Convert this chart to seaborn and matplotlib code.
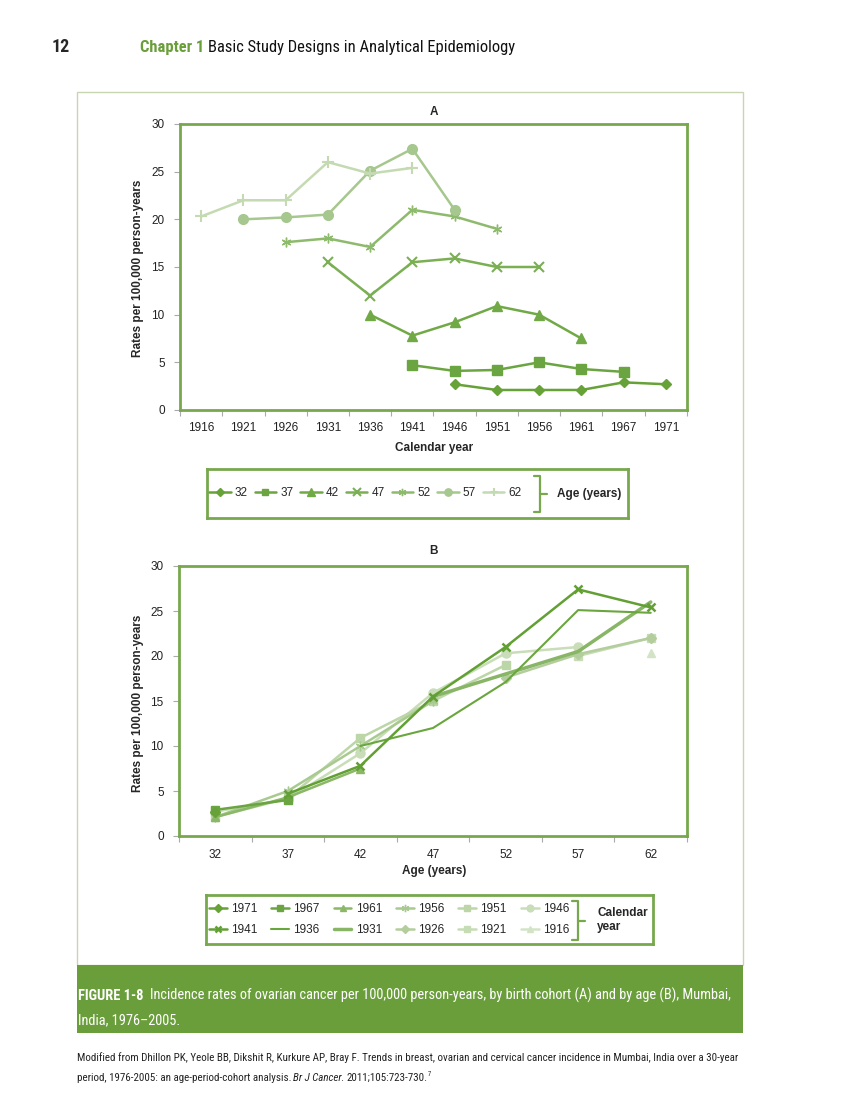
import numpy as np
import pandas as pd
import matplotlib
matplotlib.use("Agg")
import matplotlib.pyplot as plt
import seaborn as sns
from matplotlib.lines import Line2D
from matplotlib.patches import Rectangle
from matplotlib import font_manager

# birth cohorts (x of panel A, series of panel B) and ages (series of A, x of B)
cohorts = ["1916", "1921", "1926", "1931", "1936", "1941",
           "1946", "1951", "1956", "1961", "1967", "1971"]
ages = ["32", "37", "42", "47", "52", "57", "62"]

# rates per 100,000 person-years, one list per age, aligned with cohorts
rate_32 = [None, None, None, None, None, None, 2.7, 2.1, 2.1, 2.1, 2.9, 2.7]
rate_37 = [None, None, None, None, None, 4.7, 4.1, 4.2, 5.0, 4.3, 4.0, None]
rate_42 = [None, None, None, None, 10.0, 7.8, 9.2, 10.9, 10.0, 7.5, None, None]
rate_47 = [None, None, None, 15.5, 12.0, 15.5, 15.9, 15.0, 15.0, None, None, None]
rate_52 = [None, None, 17.6, 18.0, 17.1, 21.0, 20.3, 19.0, None, None, None, None]
rate_57 = [None, 20.0, 20.2, 20.5, 25.1, 27.4, 21.0, None, None, None, None, None]
rate_62 = [20.3, 22.0, 22.0, 26.0, 24.8, 25.4, None, None, None, None, None, None]
rates = [rate_32, rate_37, rate_42, rate_47, rate_52, rate_57, rate_62]

rows = []
for ai, (age, vals) in enumerate(zip(ages, rates)):
    for ci, (c, v) in enumerate(zip(cohorts, vals)):
        if v is not None:
            rows.append({"age": age, "cohort": c, "rate": v, "cx": ci, "ax": ai})
df = pd.DataFrame(rows)

GREEN = "#77a84d"
BAND = "#6a9e3b"
AST = (6, 2, 0)

age_style = {
    "32": dict(c="#66a238", m="D", ms=5, mew=1, lw=1.8),
    "37": dict(c="#6ba541", m="s", ms=6.5, mew=1, lw=1.8),
    "42": dict(c="#71a947", m="^", ms=7, mew=1, lw=1.8),
    "47": dict(c="#7baf54", m="x", ms=7, mew=1.5, lw=1.8),
    "52": dict(c="#8eba6d", m=AST, ms=7, mew=1, lw=1.8),
    "57": dict(c="#a6c78e", m="o", ms=7, mew=1, lw=1.8),
    "62": dict(c="#c4dab2", m="+", ms=8, mew=1.5, lw=1.8),
}
cohort_style = {
    "1971": dict(c="#66a238", m="D", ms=5, mew=1, lw=1.8, z=9),
    "1967": dict(c="#6ba541", m="s", ms=5.5, mew=1, lw=1.8, z=8),
    "1961": dict(c="#8ab866", m="^", ms=6, mew=1, lw=1.8, z=6),
    "1956": dict(c="#a8ca90", m=AST, ms=7, mew=1, lw=1.8, z=5),
    "1951": dict(c="#bcd6a8", m="s", ms=6, mew=1, lw=1.8, z=4),
    "1946": dict(c="#c8ddb8", m="o", ms=6.5, mew=1, lw=1.8, z=3),
    "1941": dict(c="#62a034", m="x", ms=6, mew=1.8, lw=1.8, z=10),
    "1936": dict(c="#6aa63e", m=None, ms=0, mew=0, lw=1.5, z=9),
    "1931": dict(c="#88b566", m=None, ms=0, mew=0, lw=2.5, z=7),
    "1926": dict(c="#b3ce9c", m="D", ms=5, mew=1, lw=1.8, z=3),
    "1921": dict(c="#c6dcb5", m="s", ms=6, mew=1, lw=1.8, z=2),
    "1916": dict(c="#d3e4c6", m="^", ms=6, mew=1, lw=1.8, z=2),
}
legend_b_rows = [["1971", "1967", "1961", "1956", "1951", "1946"],
                 ["1941", "1936", "1931", "1926", "1921", "1916"]]

sns.set_style("white")
plt.rcParams["font.family"] = ["Liberation Sans", "DejaVu Sans"]

# a narrow face for the book page text if one is installed
names = {f.name for f in font_manager.fontManager.ttflist}
PAGE_FONT = ["Liberation Sans"]
for cand in ["Liberation Sans Narrow", "Roboto Condensed", "Open Sans Condensed",
             "Noto Sans Condensed", "DejaVu Sans Condensed"]:
    if cand in names:
        PAGE_FONT = [cand]
        break

W, H = 867, 1114
fig = plt.figure(figsize=(W / 100, H / 100), dpi=100)
renderer = fig.canvas.get_renderer()


def fx(x):
    return x / W


def fy(y):
    return 1 - y / H


def axes_px(l, t, r, b):
    return fig.add_axes([fx(l), fy(b), (r - l) / W, (b - t) / H])


def text_run(x, y, parts, size, target=None, gap=0.0):
    # lay out pieces of differently styled text one after another on a line
    def draw(sz):
        arts, cx = [], x
        for i, (s, props) in enumerate(parts):
            t = fig.text(fx(cx), fy(y), s, fontsize=sz, ha="left", va="baseline",
                         family=PAGE_FONT, **props)
            cx += t.get_window_extent(renderer).width
            if i < len(parts) - 1:
                cx += gap * sz
            arts.append(t)
        return arts, cx
    arts, end = draw(size)
    if target:
        for t in arts:
            t.remove()
        size = size * target / (end - x)
        arts, end = draw(size)
    return size, end


def style_axes(ax, labels, xlabel, title, title_y, xlabel_y, center_y):
    ax.set_xlim(-0.5, len(labels) - 0.5)
    ax.set_ylim(0, 30)
    ax.set_yticks(range(0, 31, 5))
    ax.set_xticks(range(len(labels)))
    ax.set_xticklabels(labels)
    ax.set_xticks(np.arange(len(labels) + 1) - 0.5, minor=True)
    ax.tick_params(axis="x", which="major", length=0, pad=9, labelsize=8.5, labelcolor="#222222")
    ax.tick_params(axis="x", which="minor", length=4, width=0.8, color="#aaaaaa", bottom=True)
    ax.tick_params(axis="y", length=4, width=0.8, color="#aaaaaa", left=True, pad=7,
                   labelsize=8.5, labelcolor="#222222")
    ax.set_xlabel("")
    ax.set_ylabel("")
    for s in ax.spines.values():
        s.set_color(GREEN)
        s.set_linewidth(2)
    fig.text(fx(434), fy(title_y), title, ha="center", va="center", fontsize=8.5, weight="bold")
    fig.text(fx(434), fy(xlabel_y), xlabel, ha="center", va="center", fontsize=8.5, weight="bold")
    fig.text(fx(138), fy(center_y), "Rates per 100,000 person-years", rotation=90,
             ha="center", va="center", fontsize=8.5, weight="bold")


def handle(st):
    return Line2D([], [], color=st["c"], marker=st["m"], markersize=st["ms"],
                  markeredgecolor=st["c"], markeredgewidth=st["mew"], linewidth=st["lw"])


def bracket(x, top, bottom):
    mid = (top + bottom) / 2
    for xs, ys in [([x - 6, x, x, x - 6], [top, top, bottom, bottom]), ([x, x + 7], [mid, mid])]:
        fig.add_artist(Line2D([fx(v) for v in xs], [fy(v) for v in ys], color=GREEN,
                              lw=1.6, transform=fig.transFigure))


def legend_box(ax):
    ax.set_xticks([])
    ax.set_yticks([])
    for s in ax.spines.values():
        s.set_color(GREEN)
        s.set_linewidth(2)


# page frame and caption band
fig.add_artist(Rectangle((fx(77), fy(965)), (743 - 77) / W, (965 - 92) / H, fill=False,
                         edgecolor="#c8d5b2", lw=1, transform=fig.transFigure, zorder=0))
fig.add_artist(Rectangle((fx(77), fy(1033)), (743 - 77) / W, (1033 - 965) / H,
                         facecolor=BAND, edgecolor="none", transform=fig.transFigure, zorder=0))

# panel A: by birth cohort
axA = axes_px(180, 124, 687, 410)
for age in ages:
    st = age_style[age]
    sns.lineplot(data=df[df["age"] == age], x="cx", y="rate", ax=axA, color=st["c"],
                 marker=st["m"], markersize=st["ms"], markeredgecolor=st["c"],
                 markeredgewidth=st["mew"], linewidth=st["lw"], errorbar=None, legend=False)
style_axes(axA, cohorts, "Calendar year", "A", 112, 448, 268)

legA = axes_px(207, 469, 628, 518)
legend_box(legA)
legA.legend([handle(age_style[a]) for a in ages], ages, ncol=7, loc="center left",
            bbox_to_anchor=(0.0, 0.5), frameon=False, fontsize=8.5, handlelength=1.8,
            handletextpad=0.35, columnspacing=0.6, borderaxespad=0, borderpad=0.2,
            markerscale=0.75)
bracket(540, 476, 512)
fig.text(fx(557), fy(494), "Age (years)", ha="left", va="center", fontsize=8.5, weight="bold")

# panel B: by age
axB = axes_px(179, 566, 687, 836)
for c in sum(legend_b_rows, []):
    st = cohort_style[c]
    d = df[df["cohort"] == c]
    sns.lineplot(data=d, x="ax", y="rate", ax=axB, color=st["c"], marker=st["m"],
                 markersize=st["ms"], markeredgecolor=st["c"], markeredgewidth=st["mew"],
                 linewidth=st["lw"], errorbar=None, legend=False, zorder=st["z"])
style_axes(axB, ages, "Age (years)", "B", 551, 871, 703)

legB = axes_px(206, 895, 653, 944)
legend_box(legB)
order = [c for pair in zip(*legend_b_rows) for c in pair]
legB.legend([handle(cohort_style[c]) for c in order], order, ncol=6, loc="center left",
            bbox_to_anchor=(0.0, 0.5), frameon=False, fontsize=8.5, handlelength=1.5,
            handletextpad=0.35, columnspacing=1.2, labelspacing=0.75, borderaxespad=0,
            borderpad=0.25, markerscale=0.75)
bracket(578, 901, 940)
fig.text(fx(597), fy(920), "Calendar\nyear", ha="left", va="center", fontsize=8.5,
         weight="bold", linespacing=1.15)

# header
fig.text(fx(52), fy(52), "12", ha="left", va="baseline", fontsize=13, weight="bold",
         family=PAGE_FONT)
text_run(140, 52, [("Chapter 1", dict(weight="bold", color=BAND)),
                   ("Basic Study Designs in Analytical Epidemiology", dict(color="#111111"))],
         12, target=374, gap=0.3)

# caption
cap, _ = text_run(78, 1000, [("FIGURE 1-8", dict(weight="bold", color="white")),
                             ("Incidence rates of ovarian cancer per 100,000 person-years, by birth "
                              "cohort (A) and by age (B), Mumbai,", dict(color="white"))],
                  12, target=657, gap=0.6)
text_run(78, 1024, [("India, 1976\u20132005.", dict(color="white"))], cap)

# source
src, _ = text_run(77, 1061, [("Modified from Dhillon PK, Yeole BB, Dikshit R, Kurkure AP, Bray F. "
                              "Trends in breast, ovarian and cervical cancer incidence in Mumbai, "
                              "India over a 30-year", dict(color="#222222"))], 9, target=659)
_, end = text_run(77, 1081, [("period, 1976-2005: an age-period-cohort analysis.",
                              dict(color="#222222")),
                             ("Br J Cancer.", dict(color="#222222", style="italic")),
                             ("2011;105:723-730.", dict(color="#222222"))], src, gap=0.25)
fig.text(fx(end - 0.5), fy(1076), "7", ha="left", va="baseline", fontsize=src * 0.6,
         color="#222222", family=PAGE_FONT)

fig.savefig("out.png", dpi=100, facecolor="white")
